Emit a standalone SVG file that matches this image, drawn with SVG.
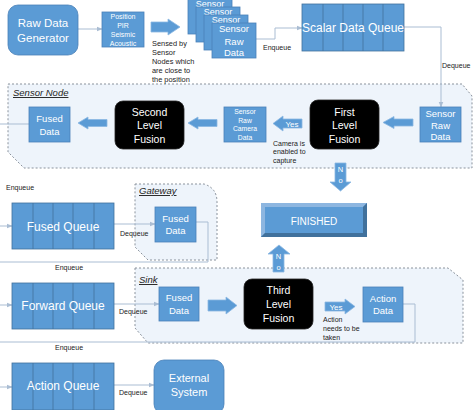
<svg xmlns="http://www.w3.org/2000/svg" width="474" height="410" viewBox="0 0 474 410">
<defs>
<style>
.box{fill:#5b9bd5;stroke:#4a80b8;stroke-width:0.8}
.q{fill:#5b9bd5;stroke:#41719c;stroke-width:0.8}
.qd{stroke:#41719c;stroke-width:0.8}
.blk{fill:#000;stroke:#222;stroke-width:0.8}
.cont{fill:#eef4fb;stroke:#8a929c;stroke-width:1;stroke-dasharray:2 2}
.ba{fill:#5b9bd5;stroke:#8cb8e2;stroke-width:0.8}
.con{fill:none;stroke:#aabdd3;stroke-width:1}
.w{fill:#fff;font-family:"Liberation Sans",Arial,sans-serif;text-anchor:middle}
.k{fill:#222;font-family:"Liberation Sans",Arial,sans-serif;font-size:7px}
.s{fill:#222;font-family:"Liberation Sans",Arial,sans-serif;font-size:7.4px}
.lab{fill:#222;font-family:"Liberation Sans",Arial,sans-serif;font-size:9.5px;font-style:italic;text-decoration:underline}
</style>
<marker id="ah" viewBox="0 0 10 10" refX="9" refY="5" markerWidth="6" markerHeight="6" orient="auto" markerUnits="userSpaceOnUse">
<path d="M0,1 L10,5 L0,9 Z" fill="#aabdd3"/>
</marker>
</defs>

<!-- containers -->
<g id="sensor-node">
<path class="cont" d="M8,84 H462 L472,96 V168 H24 L8,152 Z"/>
<text class="lab" x="13" y="96">Sensor Node</text>
</g>
<g id="gateway">
<path class="cont" d="M135,184 H204 Q217,188 217,202 V260 H148 L135,247 Z"/>
<text class="lab" x="139" y="194">Gateway</text>
</g>
<g id="sink">
<path class="cont" d="M135,268 H448 L463,280 V343 H148 L135,328 Z"/>
<text class="lab" x="139" y="283">Sink</text>
</g>

<!-- connectors -->
<g id="connectors">
<path class="con" d="M78,29 H102" marker-end="url(#ah)"/>
<path class="con" d="M256,39 H275 V28 H302" marker-end="url(#ah)"/>
<path class="con" d="M404,27 H441 V107" marker-end="url(#ah)"/>
<path class="con" d="M29,124 H0"/>
<path class="con" d="M0,226 H12" marker-end="url(#ah)"/>
<path class="con" d="M114,224 H155" marker-end="url(#ah)"/>
<path class="con" d="M196,222 H208 V262 H0"/>
<path class="con" d="M0,305 H12" marker-end="url(#ah)"/>
<path class="con" d="M114,304 H159" marker-end="url(#ah)"/>
<path class="con" d="M403,304 H415 V342 H0"/>
<path class="con" d="M0,387 H12" marker-end="url(#ah)"/>
<path class="con" d="M114,385 H154" marker-end="url(#ah)"/>
<text class="k" x="263" y="50">Enqueue</text>
<text class="k" x="442" y="68">Dequeue</text>
<text class="k" x="6" y="190">Enqueue</text>
<text class="k" x="120" y="236">Dequeue</text>
<text class="k" x="55" y="270">Enqueue</text>
<text class="k" x="119" y="314">Dequeue</text>
<text class="k" x="55" y="350">Enqueue</text>
<text class="k" x="119" y="395">Dequeue</text>
</g>

<!-- block arrows -->
<g id="block-arrows">
<path class="ba" d="M151,22 H168 V19 L180,27 L168,35 V32 H151 Z"/>
<path class="ba" d="M107,119.5 H88 V117 L78,123 L88,129 V126.5 H107 Z"/>
<path class="ba" d="M217,119.5 H198 V117 L188,123 L198,129 V126.5 H217 Z"/>
<path class="ba" d="M413,119 H394 V116.5 L383,122.5 L394,128.5 V126 H413 Z"/>
<path class="ba" d="M302,119 H283 V116 L273,123.5 L283,131 V128 H302 Z"/>
<text class="w" x="292" y="126.5" font-size="8">Yes</text>
<path class="ba" d="M208,300 H226 V297 L237,305.5 L226,314 V311 H208 Z"/>
<path class="ba" d="M325,302 H345 V299 L355,306.5 L345,314 V311 H325 Z"/>
<text class="w" x="336" y="309.5" font-size="8">Yes</text>
<path class="ba" d="M335,163 H346 V182 H351 L340.5,191 L330,182 H335 Z"/>
<text class="w" x="340.5" y="172" font-size="7.5">N</text>
<text class="w" x="340.5" y="183" font-size="7.5">o</text>
<path class="ba" d="M273,272 H284 V254 H290 L279,245 L268,254 H273 Z"/>
<text class="w" x="278.5" y="259" font-size="7.5">N</text>
<text class="w" x="278.5" y="270" font-size="7.5">o</text>
</g>

<!-- nodes -->
<g id="raw-data-generator">
<rect class="box" x="8" y="5" width="70" height="50" rx="10"/>
<text class="w" x="43" y="27" font-size="11.5">Raw Data</text>
<text class="w" x="43" y="42" font-size="11.5">Generator</text>
</g>
<g id="position-box">
<rect class="box" x="102" y="12" width="42" height="35"/>
<text class="w" x="123" y="18.5" font-size="7">Position</text>
<text class="w" x="123" y="27.5" font-size="7">PIR</text>
<text class="w" x="123" y="36.5" font-size="7">Seismic</text>
<text class="w" x="123" y="45.5" font-size="7">Acoustic</text>
</g>
<text class="s" x="152" y="45.5">Sensed by</text>
<text class="s" x="152" y="54.5">Sensor</text>
<text class="s" x="152" y="63.5">Nodes which</text>
<text class="s" x="152" y="72.5">are close to</text>
<text class="s" x="152" y="81.5">the position</text>

<g id="sensor-stack">
<rect class="box" x="188" y="-1" width="44" height="35"/>
<text class="w" x="210" y="7" font-size="9">Sensor</text>
<rect class="box" x="196" y="7" width="44" height="35"/>
<text class="w" x="218" y="15" font-size="9">Sensor</text>
<rect class="box" x="204" y="15" width="44" height="35"/>
<text class="w" x="226" y="23" font-size="9">Sensor</text>
<rect class="box" x="212" y="23" width="44" height="35"/>
<text class="w" x="234" y="32" font-size="9.5">Sensor</text>
<text class="w" x="234" y="44.5" font-size="9.5">Raw</text>
<text class="w" x="234" y="56" font-size="9.5">Data</text>
</g>

<g id="scalar-data-queue">
<rect class="q" x="302" y="4" width="102" height="47"/>
<path class="qd" d="M323,4 V51 M343,4 V51 M363,4 V51 M383,4 V51"/>
<text class="w" x="353" y="32" font-size="12">Scalar Data Queue</text>
</g>

<g id="sensor-raw-data">
<rect class="box" x="420" y="107" width="41" height="35"/>
<text class="w" x="440.5" y="116.5" font-size="9.5">Sensor</text>
<text class="w" x="440.5" y="128.5" font-size="9.5">Raw</text>
<text class="w" x="440.5" y="140" font-size="9.5">Data</text>
</g>
<g id="first-level-fusion">
<rect class="blk" x="310" y="100" width="69" height="49" rx="8"/>
<text class="w" x="344.5" y="115.5" font-size="10.5">First</text>
<text class="w" x="344.5" y="129" font-size="10.5">Level</text>
<text class="w" x="344.5" y="142.5" font-size="10.5">Fusion</text>
</g>
<text class="k" x="273" y="145.5">Camera is</text>
<text class="k" x="273" y="154">enabled to</text>
<text class="k" x="273" y="162.5">capture</text>
<g id="sensor-raw-camera-data">
<rect class="box" x="224" y="107" width="42" height="35"/>
<text class="w" x="245" y="114" font-size="6.8">Sensor</text>
<text class="w" x="245" y="122.5" font-size="6.8">Raw</text>
<text class="w" x="245" y="131" font-size="6.8">Camera</text>
<text class="w" x="245" y="139.5" font-size="6.8">Data</text>
</g>
<g id="second-level-fusion">
<rect class="blk" x="115" y="101" width="69" height="48" rx="8"/>
<text class="w" x="149.5" y="115.5" font-size="10.5">Second</text>
<text class="w" x="149.5" y="129" font-size="10.5">Level</text>
<text class="w" x="149.5" y="142.5" font-size="10.5">Fusion</text>
</g>
<g id="sensor-fused-data">
<rect class="box" x="29" y="107" width="41" height="35"/>
<text class="w" x="49.5" y="122" font-size="9.5">Fused</text>
<text class="w" x="49.5" y="134.5" font-size="9.5">Data</text>
</g>

<g id="finished">
<rect x="261" y="203" width="106" height="34" fill="#5b9bd5"/>
<path d="M261,203 H367 L363,207 H265 V233 L261,237 Z" fill="#8db6e0"/>
<path d="M367,203 V237 H261 L265,233 H363 V207 Z" fill="#41719c"/>
<rect x="265" y="207" width="98" height="26" fill="#5b9bd5"/>
<text class="w" x="314" y="224.5" font-size="10">FINISHED</text>
</g>

<g id="fused-queue">
<rect class="q" x="12" y="203" width="102" height="46"/>
<path class="qd" d="M33,203 V249 M53,203 V249 M73,203 V249 M94,203 V249"/>
<text class="w" x="63" y="231" font-size="12">Fused Queue</text>
</g>
<g id="gateway-fused-data">
<rect class="box" x="155" y="207" width="41" height="35"/>
<text class="w" x="175.5" y="221.5" font-size="9.5">Fused</text>
<text class="w" x="175.5" y="234" font-size="9.5">Data</text>
</g>

<g id="forward-queue">
<rect class="q" x="12" y="283" width="102" height="46"/>
<path class="qd" d="M33,283 V329 M53,283 V329 M73,283 V329 M94,283 V329"/>
<text class="w" x="63" y="310" font-size="12">Forward Queue</text>
</g>
<g id="sink-fused-data">
<rect class="box" x="159" y="287" width="40" height="34"/>
<text class="w" x="179" y="301" font-size="9.5">Fused</text>
<text class="w" x="179" y="313.5" font-size="9.5">Data</text>
</g>
<g id="third-level-fusion">
<rect class="blk" x="244" y="279" width="69" height="50" rx="8"/>
<text class="w" x="278.5" y="294" font-size="10.5">Third</text>
<text class="w" x="278.5" y="308" font-size="10.5">Level</text>
<text class="w" x="278.5" y="322" font-size="10.5">Fusion</text>
</g>
<text class="k" x="323" y="321.5">Action</text>
<text class="k" x="323" y="330.5">needs to be</text>
<text class="k" x="323" y="340">taken</text>
<g id="action-data">
<rect class="box" x="363" y="287" width="40" height="35"/>
<text class="w" x="383" y="301.5" font-size="9.5">Action</text>
<text class="w" x="383" y="314" font-size="9.5">Data</text>
</g>

<g id="action-queue">
<rect class="q" x="12" y="363" width="102" height="47"/>
<path class="qd" d="M33,363 V410 M53,363 V410 M73,363 V410 M94,363 V410"/>
<text class="w" x="63" y="390" font-size="12">Action Queue</text>
</g>
<g id="external-system">
<rect class="box" x="154" y="360" width="70" height="54" rx="10"/>
<text class="w" x="189" y="382" font-size="11">External</text>
<text class="w" x="189" y="395.5" font-size="11">System</text>
</g>
</svg>
